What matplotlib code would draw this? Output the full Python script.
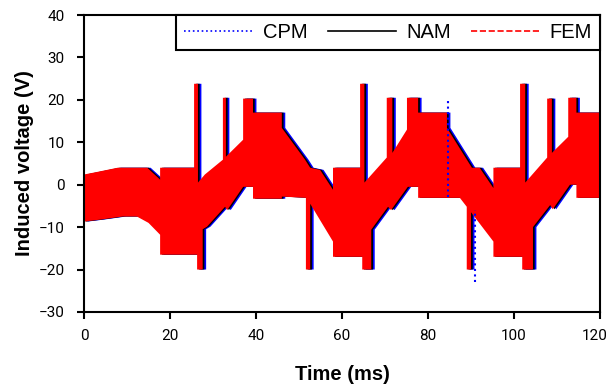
import numpy as np
import matplotlib
matplotlib.use('Agg')
import matplotlib.pyplot as plt
from matplotlib.lines import Line2D
from matplotlib.transforms import ScaledTranslation

# 유도전압 파형 (PWM 스위칭) - FEM 결과의 상/하 포락선, 시간 ms / 전압 V
t_upper = [0, 3, 7.8, 14.7, 17.7, 17.7, 25.6, 25.6, 26.5, 26.5, 28.1, 32.3, 32.3, 33.0, 33.0,
           37.0, 37.0, 39.3, 39.3, 46.0, 46.0, 51.4, 52.6, 54.9, 57.9, 57.9, 64.2, 64.2,
           65.2, 65.2, 70.4, 70.4, 71.7, 71.7, 75.1, 75.1, 77.7, 77.7, 84.4, 84.4, 90.2,
           92.0, 95.2, 95.2, 101.4, 101.4, 102.6, 102.6, 107.7, 107.7, 108.8, 108.8,
           112.6, 112.6, 114.5, 114.5, 120]
v_upper = [2.4, 3.0, 4.0, 4.0, 1.2, 4.0, 4.0, 23.8, 23.8, 0.5, 2.4, 5.9, 20.5, 20.5, 6.6,
           10.6, 20.3, 20.3, 17.0, 17.0, 13.4, 5.9, 4.0, 3.5, -1.2, 4.0, 4.0, 23.8,
           23.8, 0.5, 6.4, 20.5, 20.5, 7.5, 13.0, 20.5, 20.5, 17.0, 17.0, 13.4, 4.0,
           4.0, -0.8, 4.0, 4.0, 23.8, 23.8, 0.5, 6.4, 20.3, 20.3, 7.5,
           11.3, 20.5, 20.5, 17.0, 17.0]

t_lower = [0, 4, 9, 12.3, 15, 17.7, 17.7, 26.3, 26.3, 27.6, 27.6, 28.6, 32.8, 33.3, 37.0,
           39.3, 39.3, 46.0, 46.0, 51.6, 51.6, 52.6, 52.6, 57.9, 57.9, 64.7, 64.7, 66.8,
           66.8, 70.7, 71.4, 75.3, 77.7, 77.7, 84.4, 87.4, 89.0, 89.0, 90.0, 90.0, 95.2,
           95.2, 101.9, 101.9, 104.4, 104.4, 108.4, 109.0, 113.0, 114.5, 114.5, 120]
v_lower = [-8.7, -8.2, -7.5, -7.5, -9.0, -11.8, -16.5, -16.5, -20, -20, -10.5, -9.9, -5.2,
           -6.0, -0.5, -0.5, -3.3, -3.3, -2.8, -3.1, -20, -20, -4.5, -13.4, -17, -17, -20,
           -20, -10.6, -5.2, -6.0, -0.5, -0.5, -3.1, -3.1, -3.1, -5.2, -20, -20, -6.5,
           -13.4, -17, -17, -20, -20, -10.0, -4.8, -5.8, 0, 0, -3.1, -3.1]

# NAM, CPM 은 FEM 보다 약간 늦게 스위칭 (ms)
lag_nam = 0.4
lag_cpm = 0.8

# CPM 에만 보이는 스파이크
cpm_spike_t = [84.7, 90.9]
cpm_spike_top = [20.3, -6.0]
cpm_spike_bot = [-2.8, -23.0]

t_poly = np.array(t_upper + t_lower[::-1])
v_poly = np.array(v_upper + v_lower[::-1])

fig = plt.figure(figsize=(6.1, 3.87), dpi=100)
ax = fig.add_axes([0.1377, 0.194, 0.846, 0.767])

ax.fill(t_poly + lag_cpm, v_poly, color='#0000ff', lw=0)
ax.vlines(cpm_spike_t, cpm_spike_bot, cpm_spike_top, colors='#0000ff', linestyles=':', lw=1.5)
ax.fill(t_poly + lag_nam, v_poly, color='black', lw=0)
ax.fill(t_poly, v_poly, color='#ff0000', lw=0)

ax.set_xlim(0, 120)
ax.set_ylim(-30, 40)
ax.set_xticks(range(0, 121, 20))
ax.set_yticks(range(-30, 41, 10))

for s in ax.spines.values():
    s.set_linewidth(1.5)
ax.tick_params(direction='out', length=5, width=1.5, labelsize=11)
ax.tick_params(axis='x', pad=7)
ax.tick_params(axis='y', pad=9)
for lab in ax.get_xticklabels() + ax.get_yticklabels():
    lab.set_family('Roboto')
# 마지막 눈금 라벨이 잘리지 않도록 살짝 왼쪽으로
last = ax.get_xticklabels()[-1]
last.set_transform(last.get_transform() + ScaledTranslation(-4 / 72, 0, fig.dpi_scale_trans))

ax.set_xlabel('Time (ms)', fontsize=14.5, fontweight='bold', family='Liberation Sans', labelpad=16)
ax.set_ylabel('Induced voltage (V)', fontsize=14.5, fontweight='bold', family='Liberation Sans', labelpad=3)

handles = [Line2D([], [], color='#0000ff', ls=':', lw=1.2),
           Line2D([], [], color='black', ls='-', lw=1.2),
           Line2D([], [], color='#ff0000', ls='--', lw=1.2)]
leg = ax.legend(handles, ['CPM', 'NAM', 'FEM'], ncol=3, loc='upper right', bbox_to_anchor=(1, 1),
                borderaxespad=0, fancybox=False, framealpha=1, edgecolor='black',
                prop={'family': 'Liberation Sans', 'size': 14.5}, handlelength=3.4,
                handletextpad=0.5, columnspacing=1.0, borderpad=0.4)
leg.get_frame().set_linewidth(1.5)

fig.savefig('out.png', dpi=100)
